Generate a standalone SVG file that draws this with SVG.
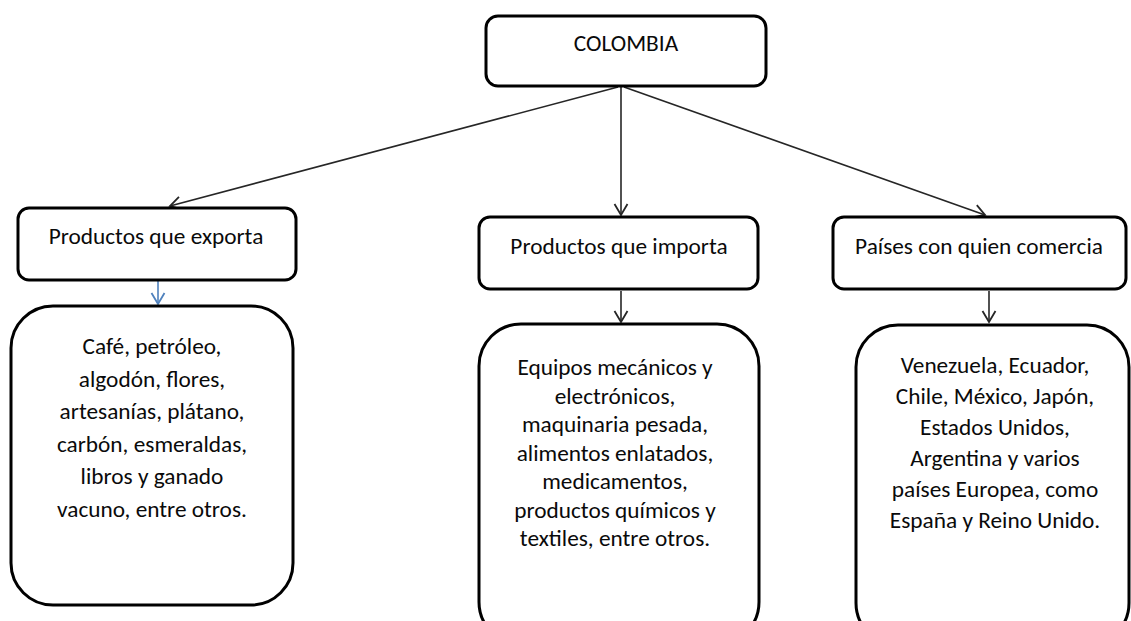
<svg xmlns="http://www.w3.org/2000/svg" width="1131" height="621" viewBox="0 0 1131 621">
<style>
  .box { fill: #ffffff; stroke: #000000; stroke-width: 3; }
  .txt { font-family: Carlito, Lato, "Liberation Sans", sans-serif; font-size: 23.3px; fill: #0a0a0a; text-anchor: middle; }
  .con { stroke: #262626; stroke-width: 1.6; fill: none; }
  .blue { stroke: #4f81bd; stroke-width: 1.6; fill: none; }
</style>
<defs>
  <marker id="ah" markerUnits="userSpaceOnUse" markerWidth="16" markerHeight="16" refX="12" refY="7" orient="auto" viewBox="0 0 16 14">
    <path d="M1,0.5 L12,7 L1,13.5" fill="none" stroke="#262626" stroke-width="1.8"/>
  </marker>
  <marker id="ahb" markerUnits="userSpaceOnUse" markerWidth="16" markerHeight="16" refX="12" refY="7" orient="auto" viewBox="0 0 16 14">
    <path d="M1,0.5 L12,7 L1,13.5" fill="none" stroke="#4f81bd" stroke-width="1.8"/>
  </marker>
</defs>
<rect width="1131" height="621" fill="#ffffff"/>

<g id="connectors">
  <line class="con" x1="618" y1="87" x2="170" y2="206" marker-end="url(#ah)"/>
  <line class="con" x1="621" y1="87" x2="621" y2="215" marker-end="url(#ah)"/>
  <line class="con" x1="624" y1="87" x2="985" y2="215" marker-end="url(#ah)"/>
  <line class="blue" x1="158" y1="281" x2="158" y2="304" marker-end="url(#ahb)"/>
  <line class="con" x1="621" y1="291" x2="621" y2="322" marker-end="url(#ah)"/>
  <line class="con" x1="989" y1="291" x2="989" y2="322" marker-end="url(#ah)"/>
</g>

<g id="colombia">
  <rect class="box" x="486" y="16" width="280" height="70" rx="12"/>
  <text class="txt" x="626" y="51">COLOMBIA</text>
</g>

<g id="exporta">
  <rect class="box" x="18" y="208" width="278" height="72" rx="11"/>
  <text class="txt" x="156" y="244">Productos que exporta</text>
</g>

<g id="importa">
  <rect class="box" x="479" y="217" width="279" height="72" rx="11"/>
  <text class="txt" x="619" y="254">Productos que importa</text>
</g>

<g id="paises">
  <rect class="box" x="833" y="217" width="293" height="72" rx="11"/>
  <text class="txt" x="979" y="254">Países con quien comercia</text>
</g>

<g id="exporta-list">
  <rect class="box" x="11" y="306" width="282" height="299" rx="42"/>
  <text class="txt" x="152" y="354">Café, petróleo,</text>
  <text class="txt" x="152" y="387">algodón, flores,</text>
  <text class="txt" x="152" y="419">artesanías, plátano,</text>
  <text class="txt" x="152" y="452">carbón, esmeraldas,</text>
  <text class="txt" x="152" y="484">libros y ganado</text>
  <text class="txt" x="152" y="517">vacuno, entre otros.</text>
</g>

<g id="importa-list">
  <rect class="box" x="479" y="324" width="280" height="320" rx="42"/>
  <text class="txt" x="615" y="375">Equipos mecánicos y</text>
  <text class="txt" x="615" y="404">electrónicos,</text>
  <text class="txt" x="615" y="432">maquinaria pesada,</text>
  <text class="txt" x="615" y="461">alimentos enlatados,</text>
  <text class="txt" x="615" y="489">medicamentos,</text>
  <text class="txt" x="615" y="518">productos químicos y</text>
  <text class="txt" x="615" y="546">textiles, entre otros.</text>
</g>

<g id="paises-list">
  <rect class="box" x="856" y="325" width="273" height="320" rx="42"/>
  <text class="txt" x="995" y="373">Venezuela, Ecuador,</text>
  <text class="txt" x="995" y="404">Chile, México, Japón,</text>
  <text class="txt" x="995" y="435">Estados Unidos,</text>
  <text class="txt" x="995" y="466">Argentina y varios</text>
  <text class="txt" x="995" y="497">países Europea, como</text>
  <text class="txt" x="995" y="528">España y Reino Unido.</text>
</g>
</svg>
